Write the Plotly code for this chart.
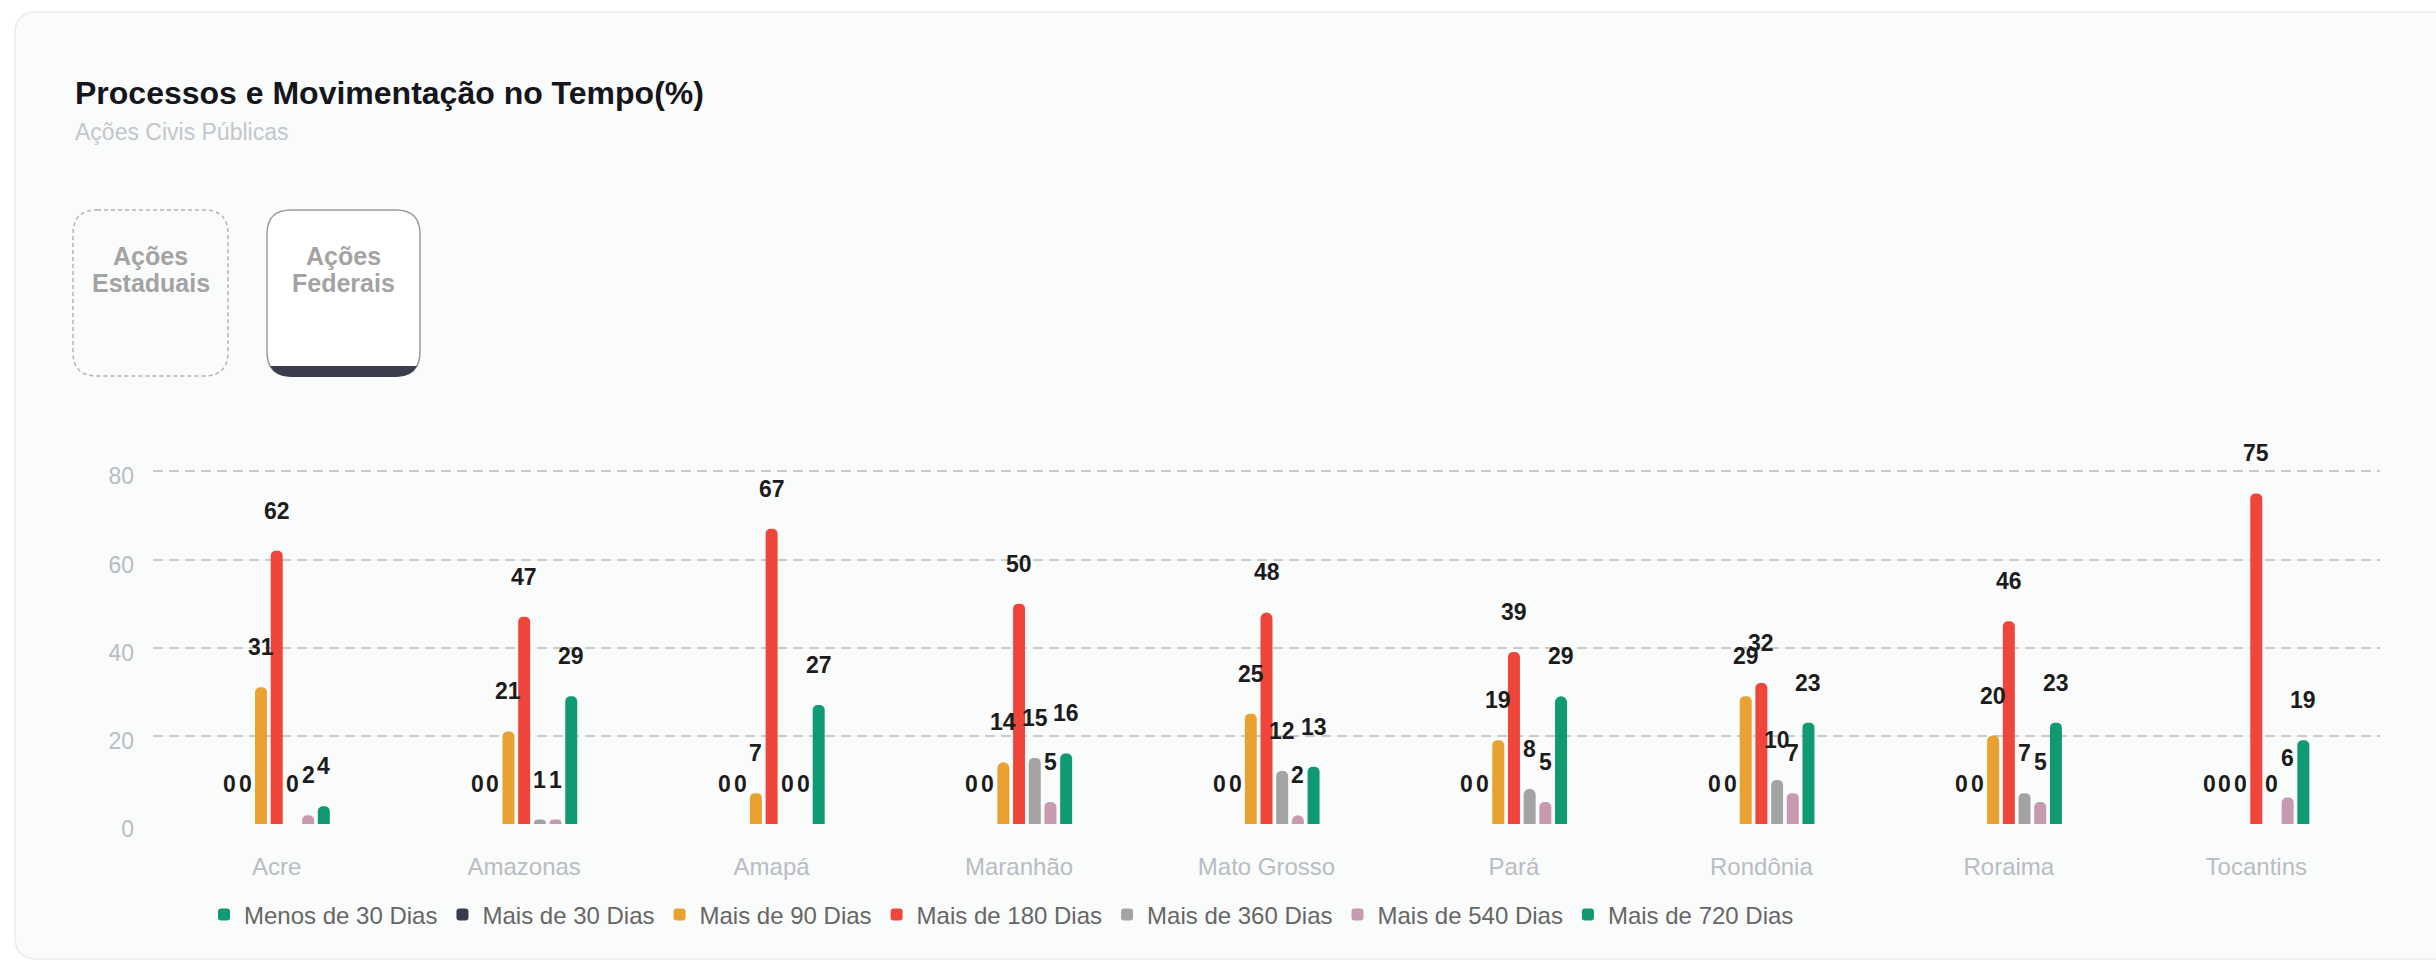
import plotly.graph_objects as go

# ---------------- data ----------------
states = ["Acre", "Amazonas", "Amapá", "Maranhão", "Mato Grosso",
          "Pará", "Rondônia", "Roraima", "Tocantins"]
series_names = ["Menos de 30 Dias", "Mais de 30 Dias", "Mais de 90 Dias",
                "Mais de 180 Dias", "Mais de 360 Dias", "Mais de 540 Dias",
                "Mais de 720 Dias"]
menos_30 = [0, 0, 0, 0, 0, 0, 0, 0, 0]
mais_30 = [0, 0, 0, 0, 0, 0, 0, 0, 0]
mais_90 = [31, 21, 7, 14, 25, 19, 29, 20, 0]
mais_180 = [62, 47, 67, 50, 48, 39, 32, 46, 75]
mais_360 = [0, 1, 0, 15, 12, 8, 10, 7, 0]
mais_540 = [2, 1, 0, 5, 2, 5, 7, 5, 6]
mais_720 = [4, 29, 27, 16, 13, 29, 23, 23, 19]
series_values = [menos_30, mais_30, mais_90, mais_180, mais_360, mais_540, mais_720]
y_ticks = [0, 20, 40, 60, 80]

colors = ["#109a74", "#3a3c4e", "#e9a232", "#f0453a", "#a3a3a3", "#c89ab1", "#109a74"]

title_text = "Processos e Movimentação no Tempo(%)"
subtitle_text = "Ações Civis Públicas"

# ---------------- layout geometry ----------------
FW, FH = 2436, 963
ML, MR, MT, MB = 153, 56, 467, 139
PW = FW - ML - MR
PH = FH - MT - MB
BARGAP = 0.556
GROUPGAP = 0.236
FONT = "Arial, Liberation Sans, sans-serif"


def px(x):
    return (x - ML) / PW


def py(y):
    return (FH - MB - y) / PH


def path_from(points):
    out = []
    for p in points:
        cmd = p[0]
        coords = p[1:]
        s = " ".join(f"{px(coords[k]):.6f},{py(coords[k + 1]):.6f}" for k in range(0, len(coords), 2))
        out.append(cmd + s)
    return " ".join(out) + " Z"


def rrect(x0, y0, x1, y1, r):
    return path_from([
        ("M", x0 + r, y0), ("L", x1 - r, y0), ("Q", x1, y0, x1, y0 + r),
        ("L", x1, y1 - r), ("Q", x1, y1, x1 - r, y1), ("L", x0 + r, y1),
        ("Q", x0, y1, x0, y1 - r), ("L", x0, y0 + r), ("Q", x0, y0, x0 + r, y0),
    ])


fig = go.Figure()
for name, vals, col in zip(series_names, series_values, colors):
    fig.add_trace(go.Bar(
        name=name, x=states, y=vals,
        marker=dict(color=col, cornerradius=6, line=dict(width=0)),
        hoverinfo="x+y+name",
    ))

# value labels above bars
n = len(series_names)
slot = (1 - BARGAP) / n
annotations = []
for i, vals in enumerate(series_values):
    for j, v in enumerate(vals):
        annotations.append(dict(
            x=j + (i - (n - 1) / 2) * slot, y=v, xref="x", yref="y",
            text=str(v), showarrow=False, yanchor="middle", yshift=40,
            font=dict(family=FONT, size=23, color="#1c1c1c", weight="bold"),
        ))

# title / subtitle
annotations.append(dict(x=px(73), y=py(93), xref="paper", yref="paper", text="<b>" + title_text + "</b>",
                        showarrow=False, xanchor="left", yanchor="middle",
                        font=dict(family=FONT, size=32, color="#15161c")))
annotations.append(dict(x=px(73), y=py(132), xref="paper", yref="paper", text=subtitle_text,
                        showarrow=False, xanchor="left", yanchor="middle",
                        font=dict(family=FONT, size=23, color="#c3c6cc")))

# buttons text
for cx, lines in [(150.5, ["Ações", "Estaduais"]), (343.5, ["Ações", "Federais"])]:
    for k, t in enumerate(lines):
        annotations.append(dict(x=px(cx), y=py(256 + 27 * k), xref="paper", yref="paper",
                                text="<b>" + t + "</b>", showarrow=False, xanchor="center",
                                yanchor="middle",
                                font=dict(family=FONT, size=25, color="#a3a3a3")))

shapes = [
    # card background
    dict(type="path", xref="paper", yref="paper", layer="below",
         path=rrect(15, 12, 2470, 959, 22), fillcolor="#fafbfb",
         line=dict(color="#ebebeb", width=1.5)),
    # Ações Estaduais button (dashed)
    dict(type="path", xref="paper", yref="paper", layer="below",
         path=rrect(73, 210, 228, 376, 24), fillcolor="rgba(0,0,0,0)",
         line=dict(color="#b4b4b4", width=1.5, dash="4px,3px")),
    # Ações Federais button (solid)
    dict(type="path", xref="paper", yref="paper", layer="below",
         path=rrect(267, 210, 420, 376, 24), fillcolor="#ffffff",
         line=dict(color="#9c9c9c", width=1.5)),
    # dark bottom band of active button
    dict(type="path", xref="paper", yref="paper", layer="below",
         path=path_from([("M", 270, 366), ("L", 417, 366), ("Q", 411, 377, 396, 377),
                         ("L", 291, 377), ("Q", 276, 377, 270, 366)]),
         fillcolor="#3a3d4d", line=dict(width=0)),
]

fig.update_layout(
    width=FW, height=FH,
    margin=dict(l=ML, r=MR, t=MT, b=MB, pad=0),
    paper_bgcolor="#ffffff", plot_bgcolor="rgba(0,0,0,0)",
    barmode="group", bargap=BARGAP, bargroupgap=GROUPGAP,
    font=dict(family=FONT, size=23, color="#b9bcc3"),
    showlegend=True,
    legend=dict(orientation="h", x=px(204), xanchor="left", y=py(915), yanchor="middle",
                font=dict(family=FONT, size=24, color="#666666"),
                bgcolor="rgba(0,0,0,0)", traceorder="normal"),
    xaxis=dict(showgrid=False, zeroline=False, showline=False, ticks="",
               tickfont=dict(family=FONT, size=24, color="#b9bcc3"),
               ticklabelstandoff=26, fixedrange=True),
    yaxis=dict(range=[0, 81], tickvals=y_ticks, showgrid=True, gridcolor="#c9c9c9",
               gridwidth=2, griddash="10px,6px", zeroline=False, showline=False, ticks="",
               tickfont=dict(family=FONT, size=23, color="#b9bcc3"),
               ticklabelstandoff=18, ticklabelshift=5, fixedrange=True),
    annotations=annotations,
    shapes=shapes,
)

fig.write_html("out.html")
